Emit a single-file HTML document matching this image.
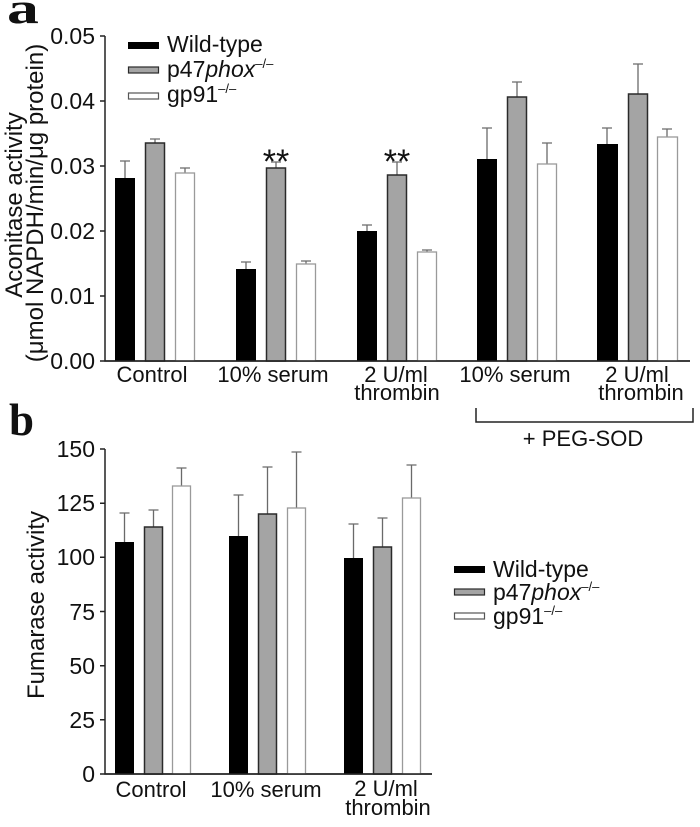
<!DOCTYPE html>
<html><head><meta charset="utf-8"><style>
html,body{margin:0;padding:0;background:#fff;}
svg{display:block;}
text{font-family:"Liberation Sans",Arial,sans-serif;fill:#111;}
.t{font-size:23px;}
.l{font-size:22px;}
.lg{font-size:23px;}
.e{stroke:#6a6a6a;stroke-width:1.3;fill:none;}
.k{fill:#000;}
.g{fill:#a4a4a4;stroke:#2a2a2a;stroke-width:1.5;}
.w{fill:#fff;stroke:#9a9a9a;stroke-width:1.3;}
.ax{stroke:#222;stroke-width:1.5;fill:none;}
</style></head><body>
<svg width="700" height="827" viewBox="0 0 700 827" xmlns="http://www.w3.org/2000/svg">
<rect width="700" height="827" fill="#fff"/>
<!-- panel letters -->
<text transform="translate(7,23) scale(1.45,1)" style="font-family:'Liberation Serif',serif;font-weight:bold;font-size:44px;">a</text>
<text x="9" y="435" style="font-family:'Liberation Serif',serif;font-weight:bold;font-size:45px;">b</text>

<!-- PANEL A -->
<text class="t" transform="translate(22,205) rotate(-90)" text-anchor="middle" style="font-size:24px">Aconitase activity</text>
<text class="t" transform="translate(43,203) rotate(-90)" text-anchor="middle" style="font-size:24px">(μmol NAPDH/min/μg protein)</text>

<path class="ax" d="M105,36 V361 H690"/>
<path class="ax" d="M100,36 H105 M100,101 H105 M100,166 H105 M100,231 H105 M100,296 H105 M100,361 H105"/>
<g class="t" text-anchor="end">
<text x="95" y="44">0.05</text>
<text x="95" y="109">0.04</text>
<text x="95" y="174">0.03</text>
<text x="95" y="239">0.02</text>
<text x="95" y="304">0.01</text>
<text x="95" y="369">0.00</text>
</g>

<!-- error bars a -->
<path class="e" d="
M125,178 V161 M120,161 H130
M155,143 V139 M150,139 H160
M185,173 V168 M180,168 H190
M246,269 V262 M241,262 H251
M276,168 V162 M271,162 H281
M306,264 V261 M301,261 H311
M367,231 V225 M362,225 H372
M397,175 V162 M392,162 H402
M427,252 V250 M422,250 H432
M487,159 V128 M482,128 H492
M517,97 V82 M512,82 H522
M547,164 V143 M542,143 H552
M607,144 V128 M602,128 H612
M638,94 V64 M633,64 H643
M667,137 V129 M662,129 H672
"/>
<!-- bars a -->
<rect class="k" x="115" y="178" width="20" height="183"/>
<rect class="g" x="145.5" y="143" width="19" height="218"/>
<rect class="w" x="175.5" y="173" width="19" height="188"/>
<rect class="k" x="236" y="269" width="20" height="92"/>
<rect class="g" x="266.5" y="168" width="19" height="193"/>
<rect class="w" x="296.5" y="264" width="19" height="97"/>
<rect class="k" x="357" y="231" width="20" height="130"/>
<rect class="g" x="387.5" y="175" width="19" height="186"/>
<rect class="w" x="417.5" y="252" width="19" height="109"/>
<rect class="k" x="477" y="159" width="20" height="202"/>
<rect class="g" x="507.5" y="97" width="19" height="264"/>
<rect class="w" x="537.5" y="164" width="19" height="197"/>
<rect class="k" x="597" y="144" width="21" height="217"/>
<rect class="g" x="628.5" y="94" width="19" height="267"/>
<rect class="w" x="657.5" y="137" width="20" height="224"/>
<path class="ax" d="M105,361 H690"/>

<!-- asterisks -->
<text x="276" y="173" text-anchor="middle" style="font-size:34px">**</text>
<text x="397" y="173" text-anchor="middle" style="font-size:34px">**</text>

<!-- legend a -->
<rect x="128" y="42" width="31" height="7" fill="#000"/>
<rect x="128.5" y="67" width="30" height="6" fill="#a4a4a4" stroke="#2a2a2a" stroke-width="1.2"/>
<rect x="128.5" y="93" width="30" height="6" fill="#fff" stroke="#555" stroke-width="1.2"/>
<text class="lg" x="167" y="52">Wild-type</text>
<text class="lg" x="167" y="77">p47<tspan font-style="italic">phox</tspan><tspan dy="-9" style="font-size:13px">–/–</tspan></text>
<text class="lg" x="167" y="102">gp91<tspan dy="-9" style="font-size:13px">–/–</tspan></text>

<!-- x labels a -->
<g class="l" text-anchor="middle">
<text x="152" y="382">Control</text>
<text x="273" y="382">10% serum</text>
<text x="396" y="382">2 U/ml</text>
<text x="397" y="400">thrombin</text>
<text x="515" y="382">10% serum</text>
<text x="637" y="382">2 U/ml</text>
<text x="641" y="400">thrombin</text>
<text x="583" y="446">+ PEG-SOD</text>
</g>
<path class="ax" d="M476,408 V422 H693 V408"/>

<!-- PANEL B -->
<text class="t" transform="translate(44,605) rotate(-90)" text-anchor="middle" style="font-size:24px">Fumarase activity</text>
<path class="ax" d="M105,449 V774 H432"/>
<path class="ax" d="M100,449 H105 M100,503.2 H105 M100,557.3 H105 M100,611.5 H105 M100,665.7 H105 M100,719.8 H105 M100,774 H105"/>
<g class="t" text-anchor="end">
<text x="95" y="457">150</text>
<text x="95" y="511">125</text>
<text x="95" y="565">100</text>
<text x="95" y="620">75</text>
<text x="95" y="674">50</text>
<text x="95" y="728">25</text>
<text x="95" y="782">0</text>
</g>

<path class="e" d="
M124.5,542 V513 M119.5,513 H129.5
M153.5,527 V510 M148.5,510 H158.5
M181.5,486 V468 M176.5,468 H186.5
M238.5,536 V495 M233.5,495 H243.5
M267.5,514 V467 M262.5,467 H272.5
M296.5,508 V452 M291.5,452 H301.5
M353.5,558 V524 M348.5,524 H358.5
M382.5,547 V518 M377.5,518 H387.5
M411.5,498 V465 M406.5,465 H416.5
"/>
<rect class="k" x="115" y="542" width="19" height="232"/>
<rect class="g" x="144.5" y="527" width="18" height="247"/>
<rect class="w" x="172.5" y="486" width="18" height="288"/>
<rect class="k" x="229" y="536" width="19" height="238"/>
<rect class="g" x="258.5" y="514" width="18" height="260"/>
<rect class="w" x="287.5" y="508" width="18" height="266"/>
<rect class="k" x="344" y="558" width="19" height="216"/>
<rect class="g" x="373.5" y="547" width="18" height="227"/>
<rect class="w" x="402.5" y="498" width="18" height="276"/>
<path class="ax" d="M105,774 H432"/>

<!-- legend b -->
<rect x="454" y="566" width="31" height="7" fill="#000"/>
<rect x="454.5" y="589" width="30" height="6" fill="#a4a4a4" stroke="#2a2a2a" stroke-width="1.2"/>
<rect x="454.5" y="613" width="30" height="6" fill="#fff" stroke="#555" stroke-width="1.2"/>
<text class="lg" x="493" y="577">Wild-type</text>
<text class="lg" x="493" y="600">p47<tspan font-style="italic">phox</tspan><tspan dy="-9" style="font-size:13px">–/–</tspan></text>
<text class="lg" x="493" y="624">gp91<tspan dy="-9" style="font-size:13px">–/–</tspan></text>

<g class="l" text-anchor="middle">
<text x="151" y="797">Control</text>
<text x="266" y="797">10% serum</text>
<text x="386" y="796">2 U/ml</text>
<text x="388" y="815">thrombin</text>
</g>
</svg>
</body></html>
